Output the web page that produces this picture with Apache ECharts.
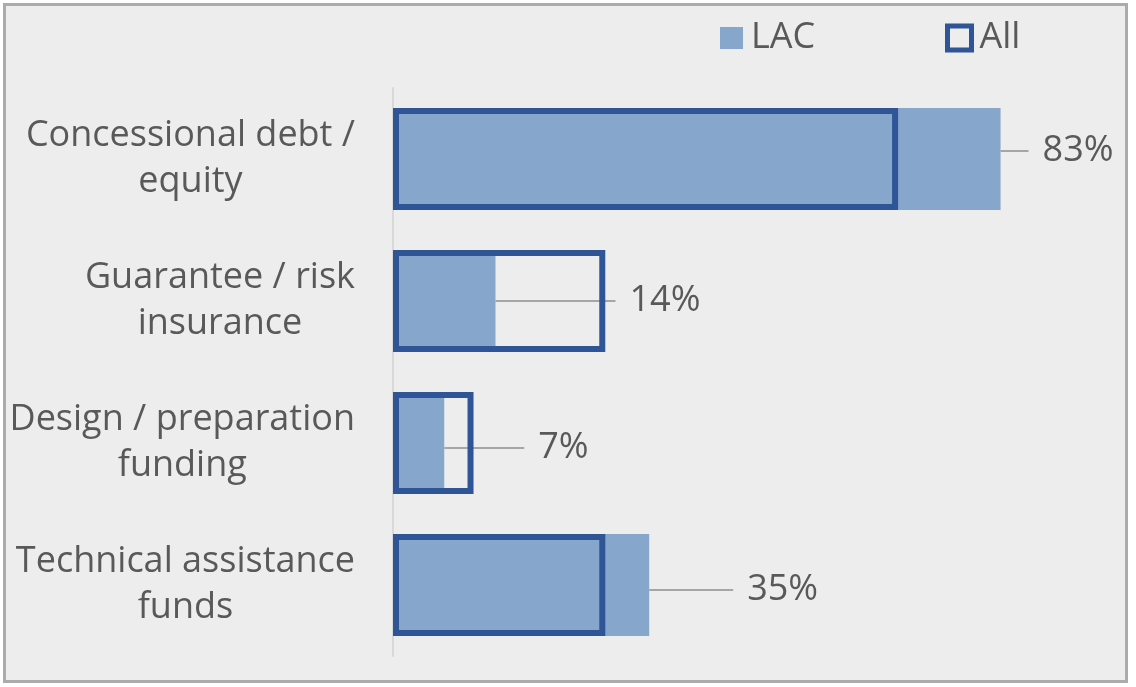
<!DOCTYPE html>
<html>
<head>
<meta charset="utf-8">
<script src="https://cdn.jsdelivr.net/npm/echarts@6/dist/echarts.min.js"></script>
<style>
html,body{margin:0;padding:0;background:#ffffff;}
#chart{width:1136px;height:687px;}
</style>
</head>
<body>
<div id="chart"></div>
<script>
const categories = ['Concessional debt /\nequity', 'Guarantee / risk\ninsurance', 'Design / preparation\nfunding', 'Technical assistance\nfunds'];
const lacValues = [83, 14, 7, 35];
const allValues = [69, 29, 11, 29];
const seriesNames = ['LAC', 'All'];

const FONT = 'Open Sans';
const TXT = '#595959';
const FS = 36;
const labelShift = [[23, -8], [115, 0], [75, 5], [79, 5]];

const legendText = {fontFamily: FONT, fontSize: FS, color: TXT, padding: [0, 0, 0, 3]};

const chart = echarts.init(document.getElementById('chart'), null, {renderer: 'canvas'});
chart.setOption({
  animation: false,
  backgroundColor: '#ffffff',
  graphic: [{
    type: 'rect', z: -10, silent: true,
    shape: {x: 4.5, y: 4.5, width: 1122, height: 677},
    style: {fill: '#EDEDED', stroke: '#ABABAB', lineWidth: 3}
  }],
  legend: [
    {
      left: 720, top: 20, padding: 0, itemWidth: 23, itemHeight: 22,
      textStyle: legendText,
      data: [{name: seriesNames[0], icon: 'rect', itemStyle: {color: '#87A6CC', borderWidth: 0}}]
    },
    {
      left: 945, top: 20, padding: 0, itemWidth: 24, itemHeight: 24,
      textStyle: legendText,
      data: [{name: seriesNames[1], icon: 'rect', itemStyle: {color: 'transparent', borderColor: '#2F5597', borderWidth: 5}}]
    }
  ],
  grid: {left: 393, width: 732, top: 88, bottom: 31, containLabel: false},
  xAxis: {
    type: 'value', min: 0, max: 100, show: false
  },
  yAxis: {
    type: 'category', inverse: true, data: categories,
    axisLine: {show: true, lineStyle: {color: '#D9D9D9', width: 2}},
    axisTick: {show: false},
    axisLabel: {
      margin: 38,
      align: 'right',
      formatter: v => v.split('\n').map(l => '{c|' + l + '}').join('\n'),
      rich: {c: {align: 'center', fontFamily: FONT, fontSize: FS, color: TXT, lineHeight: 46}}
    }
  },
  series: [
    {
      name: seriesNames[0], type: 'bar', data: lacValues, barWidth: '72%', barGap: '-100%',
      itemStyle: {color: '#87A6CC'},
      label: {
        show: true, position: 'right', distance: 5,
        formatter: '{g|}{v|{c}%}',
        rich: {
          g: {width: 14},
          v: {fontFamily: FONT, fontSize: FS, color: TXT}
        }
      },
      labelLine: {show: true, lineStyle: {color: '#A6A6A6', width: 2}},
      labelLayout: p => ({dx: labelShift[p.dataIndex][0], dy: labelShift[p.dataIndex][1]}),
      z: 2
    },
    {
      name: seriesNames[1], type: 'bar', data: allValues, barWidth: '72%', barGap: '-100%',
      itemStyle: {color: 'rgba(0,0,0,0)', borderColor: '#2F5597', borderWidth: 6},
      z: 3
    }
  ]
});
</script>
</body>
</html>
